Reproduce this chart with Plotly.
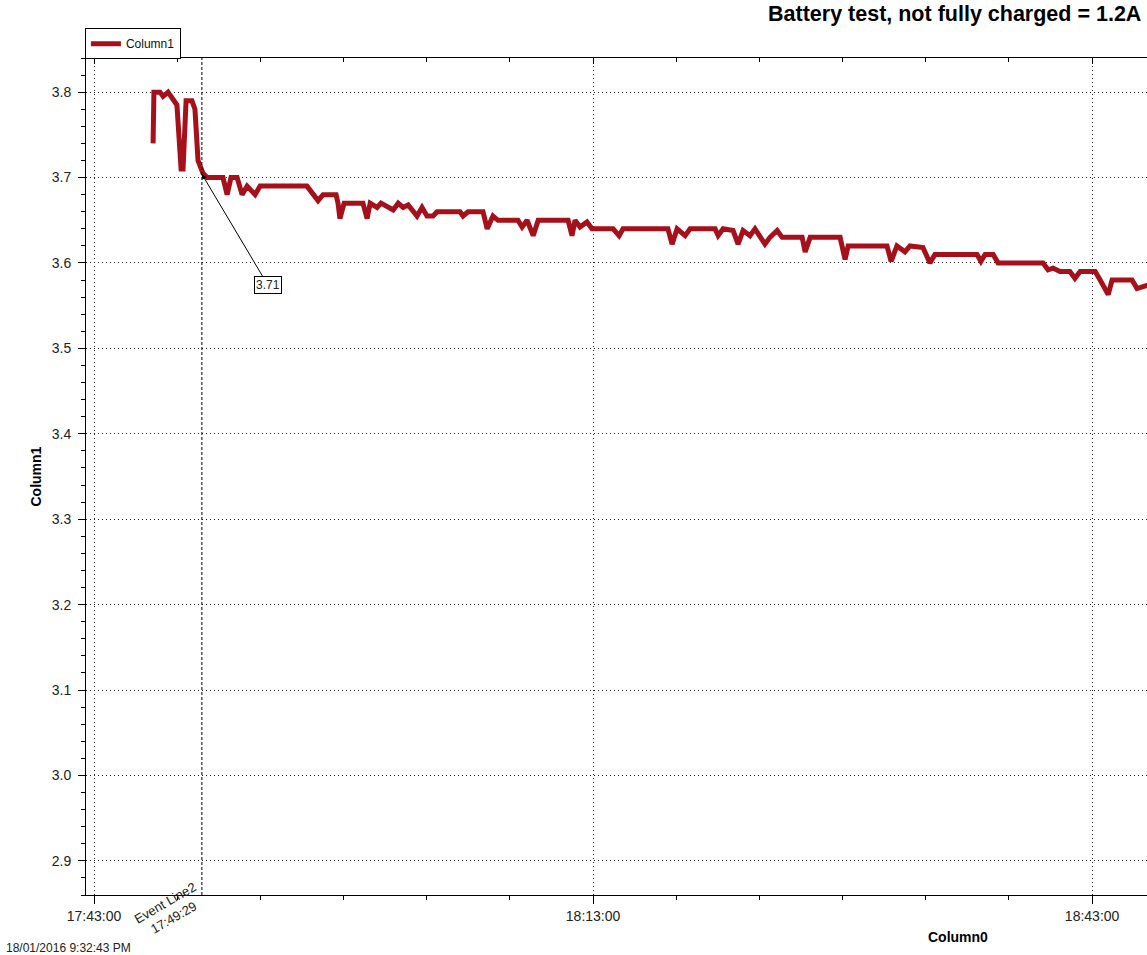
import plotly.graph_objects as go

DATE = "2016-01-18 "

# Column0 (time of day) and Column1 (voltage)
times = [
    "17:46:33", "17:46:36", "17:46:58", "17:47:09", "17:47:27", "17:47:45", "17:47:59",
    "17:48:14", "17:48:21", "17:48:32", "17:48:53", "17:49:04", "17:49:15", "17:49:33",
    "17:49:48", "17:50:45", "17:51:00", "17:51:14", "17:51:36", "17:51:54", "17:52:12",
    "17:52:41", "17:52:59", "17:55:48", "17:56:10", "17:56:28", "17:56:46", "17:57:33",
    "17:57:40", "17:57:47", "17:58:02", "17:59:10", "17:59:25", "17:59:36", "18:00:01",
    "18:00:15", "18:00:59", "18:01:17", "18:01:35", "18:01:53", "18:02:25", "18:02:43",
    "18:03:01", "18:03:23", "18:03:37", "18:05:00", "18:05:11", "18:05:29", "18:06:23",
    "18:06:38", "18:06:59", "18:07:17", "18:08:29", "18:08:44", "18:09:02", "18:09:24",
    "18:09:42", "18:11:30", "18:11:44", "18:11:55", "18:12:13", "18:12:38", "18:12:56",
    "18:14:12", "18:14:34", "18:14:48", "18:17:30", "18:17:45", "18:18:03", "18:18:32",
    "18:18:50", "18:20:20", "18:20:31", "18:20:49", "18:21:25", "18:21:43", "18:22:01",
    "18:22:26", "18:22:44", "18:23:20", "18:23:38", "18:24:04", "18:24:22", "18:25:34",
    "18:25:45", "18:26:03", "18:27:51", "18:28:09", "18:28:20", "18:30:40", "18:30:55",
    "18:31:16", "18:31:45", "18:32:03", "18:32:50", "18:33:15", "18:33:33", "18:36:05",
    "18:36:19", "18:36:34", "18:37:03", "18:37:21", "18:40:03", "18:40:21", "18:40:39",
    "18:41:04", "18:41:40", "18:41:58", "18:42:17", "18:43:11", "18:43:29", "18:43:58",
    "18:44:12", "18:45:24", "18:45:42", "18:46:00", "18:46:29", "18:47:00",
]
volts = [
    3.74, 3.80, 3.80, 3.795, 3.80, 3.79, 3.785,
    3.71, 3.71, 3.79, 3.79, 3.78, 3.72, 3.705,
    3.70, 3.70, 3.68, 3.70, 3.70, 3.68, 3.69,
    3.68, 3.69, 3.69, 3.68, 3.673, 3.68, 3.68,
    3.67, 3.652, 3.67, 3.67, 3.652, 3.67, 3.665,
    3.67, 3.662, 3.67, 3.665, 3.668, 3.655, 3.665,
    3.655, 3.655, 3.66, 3.66, 3.655, 3.66, 3.66,
    3.64, 3.655, 3.65, 3.65, 3.642, 3.65, 3.632,
    3.65, 3.65, 3.632, 3.65, 3.642, 3.648, 3.64,
    3.64, 3.632, 3.64, 3.64, 3.622, 3.64, 3.632,
    3.64, 3.64, 3.632, 3.64, 3.638, 3.622, 3.638,
    3.632, 3.64, 3.622, 3.63, 3.638, 3.63, 3.63,
    3.613, 3.63, 3.63, 3.604, 3.62, 3.62, 3.602,
    3.62, 3.613, 3.62, 3.618, 3.60, 3.61, 3.61,
    3.602, 3.61, 3.61, 3.60, 3.60, 3.592, 3.594,
    3.59, 3.59, 3.582, 3.59, 3.59, 3.58, 3.563,
    3.58, 3.58, 3.57, 3.572, 3.575, 3.57,
]

event_time = "17:49:29"
event_label = "Event Line2<br>17:49:29"
point_label = "3.71"
point_value = 3.704
title_text = "Battery test, not fully charged = 1.2A"
timestamp_text = "18/01/2016 9:32:43 PM"

x_vals = [DATE + t for t in times]
ev = DATE + event_time

LINE_COLOR = "#a6101a"
FONT = "Liberation Sans, Arial, sans-serif"
GRID = dict(showgrid=True, gridcolor="#222", griddash="1px,3px", gridwidth=1)

fig = go.Figure()
fig.add_trace(go.Scatter(
    x=x_vals, y=volts, mode="lines", name="Column1",
    line=dict(color=LINE_COLOR, width=5), hoverinfo="skip",
))
# invisible helper trace so the top mirror axis is drawn
fig.add_trace(go.Scatter(
    x=x_vals[:1], y=volts[:1], xaxis="x2", mode="markers",
    marker=dict(opacity=0), showlegend=False, hoverinfo="skip",
))

fig.add_shape(type="line", x0=ev, x1=ev, xref="x", y0=0, y1=1, yref="paper",
              line=dict(color="black", width=1, dash="3px,2px"))

axis_common = dict(showline=True, linecolor="black", linewidth=1, zeroline=False,
                   tickcolor="black")

fig.update_layout(
    width=1147, height=955,
    margin=dict(l=86, r=0, t=58, b=60),
    paper_bgcolor="white", plot_bgcolor="white",
    font=dict(family=FONT, color="#222"),
    showlegend=True,
    legend=dict(x=-0.001, xanchor="left", y=1.017, yanchor="middle", orientation="h",
                bordercolor="black", borderwidth=1, bgcolor="white",
                font=dict(size=12, color="#111"), itemwidth=30),
    xaxis=dict(
        type="date",
        range=[DATE + "17:42:31", DATE + "18:46:18"],
        tick0=DATE + "17:43:00", dtick=1800000, tickformat="%H:%M:%S",
        ticks="outside", ticklen=8,
        tickfont=dict(size=14, color="#222"),
        minor=dict(tick0=DATE + "17:43:00", dtick=300000, ticks="outside",
                   ticklen=4, tickcolor="black", showgrid=False),
        **GRID, **axis_common,
    ),
    xaxis2=dict(
        type="date", overlaying="x", matches="x", side="top", anchor="y",
        tick0=DATE + "17:43:00", dtick=1800000, ticks="inside", ticklen=6,
        showticklabels=False, showgrid=False,
        minor=dict(tick0=DATE + "17:43:00", dtick=300000, ticks="inside",
                   ticklen=4, tickcolor="black", showgrid=False),
        **axis_common,
    ),
    yaxis=dict(
        range=[2.86, 3.84], tick0=2.9, dtick=0.1, tickformat=".1f",
        ticks="outside", ticklen=7, ticklabelstandoff=4,
        tickfont=dict(size=14, color="#222"),
        minor=dict(tick0=2.9, dtick=0.02, ticks="outside", ticklen=4,
                   tickcolor="black", showgrid=False),
        **GRID, **axis_common,
    ),
)

fig.add_annotation(
    x=ev, y=point_value, xref="x", yref="y", text=point_label,
    showarrow=True, arrowhead=2, arrowsize=1, arrowwidth=1, arrowcolor="black",
    ax=66, ay=111, bordercolor="black", borderwidth=1, borderpad=1,
    bgcolor="white", font=dict(size=12, color="#222"),
)
fig.add_annotation(
    x=ev, y=0, xref="x", yref="paper", text=event_label, showarrow=False,
    textangle=-30, xanchor="center", yanchor="middle", xshift=-32, yshift=-15,
    font=dict(size=13, color="#222"),
)
fig.add_annotation(
    x=1, y=1, xref="paper", yref="paper", text="<b>" + title_text + "</b>",
    showarrow=False, xanchor="right", yanchor="middle", xshift=-4, yshift=44,
    font=dict(size=21.5, color="black"),
)
fig.add_annotation(
    x=0.8219, y=0, xref="paper", yref="paper", text="<b>Column0</b>",
    showarrow=False, xanchor="center", yanchor="middle", yshift=-42,
    font=dict(size=14, color="black"),
)
fig.add_annotation(
    x=0, y=0.5, xref="paper", yref="paper", text="<b>Column1</b>",
    showarrow=False, textangle=-90, xanchor="center", yanchor="middle", xshift=-51,
    font=dict(size=14, color="black"),
)
fig.add_annotation(
    x=0, y=0, xref="paper", yref="paper", text=timestamp_text,
    showarrow=False, xanchor="left", yanchor="middle", xshift=-82, yshift=-53,
    font=dict(size=12, color="#222"),
)

# remove the default page margin so the figure sits at the window's top-left corner
fig.write_html("out.html", config={"displayModeBar": False},
               post_script="document.body.style.margin='0';")
